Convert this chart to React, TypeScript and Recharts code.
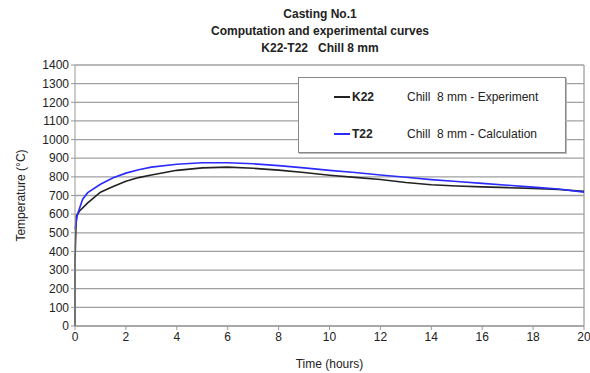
import { LineChart, Line, XAxis, YAxis, CartesianGrid, ReferenceLine } from "recharts";

const xTicks = [0, 2, 4, 6, 8, 10, 12, 14, 16, 18, 20];
const yTicks = [0, 100, 200, 300, 400, 500, 600, 700, 800, 900, 1000, 1100, 1200, 1300, 1400];

// K22 - experiment (time in hours, temperature °C)
const k22Time = [0, 0, 0.05, 0.2, 0.5, 1, 1.5, 2, 2.5, 3, 4, 5, 6, 7, 8, 9, 10, 11, 12, 13, 14, 15, 16, 17, 18, 19, 20];
const k22Temp = [0, 350, 590, 620, 660, 718, 748, 777, 796, 810, 835, 848, 852, 846, 836, 823, 809, 797, 786, 770, 758, 751, 746, 742, 738, 732, 722];

// T22 - calculation
const t22Time = [0, 0.1, 0.3, 0.5, 1, 1.5, 2, 2.5, 3, 4, 5, 6, 7, 8, 9, 10, 11, 12, 13, 14, 15, 16, 17, 18, 19, 20];
const t22Temp = [520, 600, 680, 715, 760, 795, 820, 838, 852, 868, 876, 876, 870, 860, 848, 835, 823, 810, 798, 785, 775, 765, 755, 745, 735, 718];

const k22 = k22Time.map((t, i) => ({ t, v: k22Temp[i] }));
const t22 = t22Time.map((t, i) => ({ t, v: t22Temp[i] }));

const font = "'Liberation Sans Narrow', 'Liberation Sans', Arial, sans-serif";
const black = "#222";
const blue = "#2b2bff";

function LegendBox() {
  const row = (color: string, name: string, desc: string) => (
    <div style={{ display: "flex", alignItems: "center", height: 37 }}>
      <div style={{ width: 16, height: 2, background: color, marginLeft: 35, marginRight: 2 }} />
      <span style={{ width: 55, fontWeight: "bold" }}>{name}</span>
      <span style={{ whiteSpace: "pre" }}>{desc}</span>
    </div>
  );
  return (
    <div
      style={{
        position: "absolute",
        left: 298,
        top: 77,
        width: 268,
        height: 76,
        background: "#fff",
        border: "1px solid #888",
        boxShadow: "1px 1px 0 #bbb",
        boxSizing: "border-box",
        fontFamily: font,
        fontSize: 12,
        color: "#222",
      }}
    >
      {row(black, "K22", "Chill  8 mm - Experiment")}
      {row(blue, "T22", "Chill  8 mm - Calculation")}
    </div>
  );
}

export default function App() {
  return (
    <div style={{ position: "absolute", left: 0, top: 0, width: 590, height: 373, background: "#fff", fontFamily: font }}>
      <div style={{ position: "absolute", left: 0, width: 640, top: 6, textAlign: "center", fontWeight: "bold", fontSize: 12, lineHeight: "17px", color: "#222" }}>
        <div>Casting No.1</div>
        <div>Computation and experimental curves</div>
        <div style={{ whiteSpace: "pre" }}>K22-T22   Chill 8 mm</div>
      </div>
      <LineChart width={590} height={373} margin={{ top: 65, right: 6, bottom: 0, left: 0 }}>
        <CartesianGrid vertical={false} stroke="#a0a0a0" strokeWidth={1.3} />
        <XAxis
          type="number"
          dataKey="t"
          domain={[0, 20]}
          ticks={xTicks}
          height={47}
          stroke="#999"
          tickSize={4}
          tick={{ fill: "#222", fontSize: 12, fontFamily: font }}
          label={{ value: "Time (hours)", position: "insideBottom", offset: 5, fill: "#222", fontSize: 12, fontFamily: font }}
        />
        <YAxis
          type="number"
          domain={[0, 1400]}
          ticks={yTicks}
          width={75}
          stroke="#999"
          tickSize={4}
          interval={0}
          tick={{ fill: "#222", fontSize: 12, fontFamily: font }}
          label={{ value: "Temperature (°C)", angle: -90, position: "insideLeft", offset: 21, style: { textAnchor: "middle" }, fill: "#222", fontSize: 12, fontFamily: font }}
        />
        <ReferenceLine x={20} stroke="#a0a0a0" strokeWidth={1.3} />
        <Line data={k22} dataKey="v" type="linear" stroke={black} strokeWidth={1.6} dot={false} isAnimationActive={false} />
        <Line data={t22} dataKey="v" type="linear" stroke={blue} strokeWidth={1.6} dot={false} isAnimationActive={false} />
      </LineChart>
      <LegendBox />
    </div>
  );
}
